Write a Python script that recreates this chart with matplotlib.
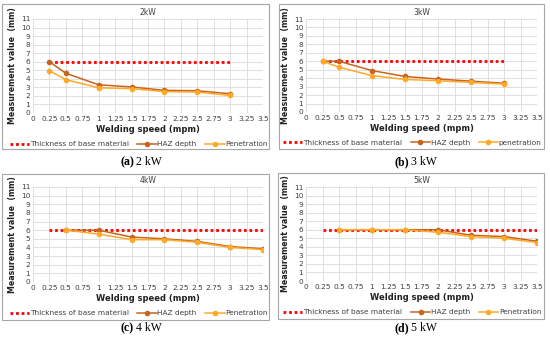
import numpy as np
import matplotlib.pyplot as plt
from matplotlib.patches import Rectangle

# Données
speed_ab = [0.25, 0.5, 1, 1.5, 2, 2.5, 3]
speed_cd = [0.5, 1, 1.5, 2, 2.5, 3, 3.5]

haz_2kw = [6.0, 4.65, 3.3, 3.05, 2.65, 2.6, 2.25]
pen_2kw = [4.95, 3.9, 2.95, 2.85, 2.5, 2.45, 2.05]
haz_3kw = [6.0, 6.0, 4.9, 4.2, 3.9, 3.65, 3.4]
pen_3kw = [6.0, 5.3, 4.3, 3.85, 3.7, 3.5, 3.3]
haz_4kw = [6.0, 6.0, 5.2, 5.0, 4.7, 4.1, 3.85]
pen_4kw = [6.0, 5.55, 4.9, 4.9, 4.6, 4.0, 3.75]
haz_5kw = [6.0, 6.0, 6.0, 6.0, 5.35, 5.2, 4.65]
pen_5kw = [6.0, 6.0, 6.0, 5.7, 5.2, 5.0, 4.5]

thickness = 6
thick_span_ab = [0.25, 3]
thick_span_cd = [0.25, 3.5]

titles = ["2kW", "3kW", "4kW", "5kW"]
letters = ["(a)", "(b)", "(c)", "(d)"]
captions = ["2 kW", "3 kW", "4 kW", "5 kW"]
pen_names = ["Penetration", "penetration", "Penetration", "Penetration"]

xticks = np.arange(0, 3.51, 0.25)
xtick_labels = ["0", "0.25", "0.5", "0.75", "1", "1.25", "1.5", "1.75",
                "2", "2.25", "2.5", "2.75", "3", "3.25", "3.5"]

W, H = 550, 339
fig = plt.figure(figsize=(W/100, H/100), dpi=100)

# axes en pixels (x0, x1, y_haut, y_bas)
axes_px = [(33, 263, 19, 113), (306, 537, 19, 112),
           (33, 263, 187, 282), (306, 537, 187, 281)]
boxes_px = [(2, 4, 269, 149), (279, 4, 544, 149),
            (2, 174, 269, 320), (278, 173, 544, 319)]
caption_px = [(135, 162), (410, 162), (135, 328), (410, 328)]

series = [(speed_ab, haz_2kw, pen_2kw, thick_span_ab),
          (speed_ab, haz_3kw, pen_3kw, thick_span_ab),
          (speed_cd, haz_4kw, pen_4kw, thick_span_cd),
          (speed_cd, haz_5kw, pen_5kw, thick_span_cd)]

c_haz = "#C8641E"
c_pen = "#FFA928"
txt = "#404040"

for i in range(4):
    bx0, by0, bx1, by1 = boxes_px[i]
    fig.patches.append(Rectangle((bx0/W, 1-by1/H), (bx1-bx0)/W, (by1-by0)/H,
                                 transform=fig.transFigure, fill=False,
                                 ec="#A6A6A6", lw=0.8))
    x0, x1, yt, yb = axes_px[i]
    ax = fig.add_axes([x0/W, 1-yb/H, (x1-x0)/W, (yb-yt)/H])
    sp, haz, pen, span = series[i]
    ax.plot(span, [thickness, thickness], color="#FF0000", lw=2,
            ls=(0, (1, 1)), label="Thickness of base material")
    ax.plot(sp, haz, color=c_haz, lw=1.1, marker="o", ms=3,
            label="HAZ depth")
    ax.plot(sp, pen, color=c_pen, lw=1.1, marker="o", ms=3,
            label=pen_names[i])
    ax.set_xlim(0, 3.5)
    ax.set_ylim(0, 11)
    ax.set_xticks(xticks)
    ax.set_xticklabels(xtick_labels)
    ax.set_yticks(range(0, 12))
    ax.tick_params(labelsize=5.3, length=0, pad=2, colors=txt)
    ax.grid(color="#D9D9D9", lw=0.6)
    ax.set_axisbelow(True)
    for s in ax.spines.values():
        s.set_visible(False)
    ax.set_title(titles[i], fontsize=5.5, color=txt, pad=3)
    ax.set_xlabel("Welding speed (mpm)", fontsize=6, fontweight="bold",
                  labelpad=2, color="#202020")
    ax.set_ylabel("Measurement value  (mm)", fontsize=5.7, fontweight="bold",
                  labelpad=3, color="#202020")
    ax.legend(loc="center", bbox_to_anchor=(0.46, -0.33), ncol=3,
              fontsize=5.3, frameon=False, handlelength=2.6,
              columnspacing=1.2, handletextpad=0.1, borderaxespad=0,
              labelcolor=txt)
    cx, cy = caption_px[i]
    fig.text(cx/W - 0.002, 1-cy/H, letters[i], ha="right", va="center",
             fontsize=8.5, fontweight="bold", family="Liberation Serif")
    fig.text(cx/W + 0.002, 1-cy/H, captions[i], ha="left", va="center",
             fontsize=8.5, family="Liberation Serif")

plt.savefig("out.png", dpi=100)
